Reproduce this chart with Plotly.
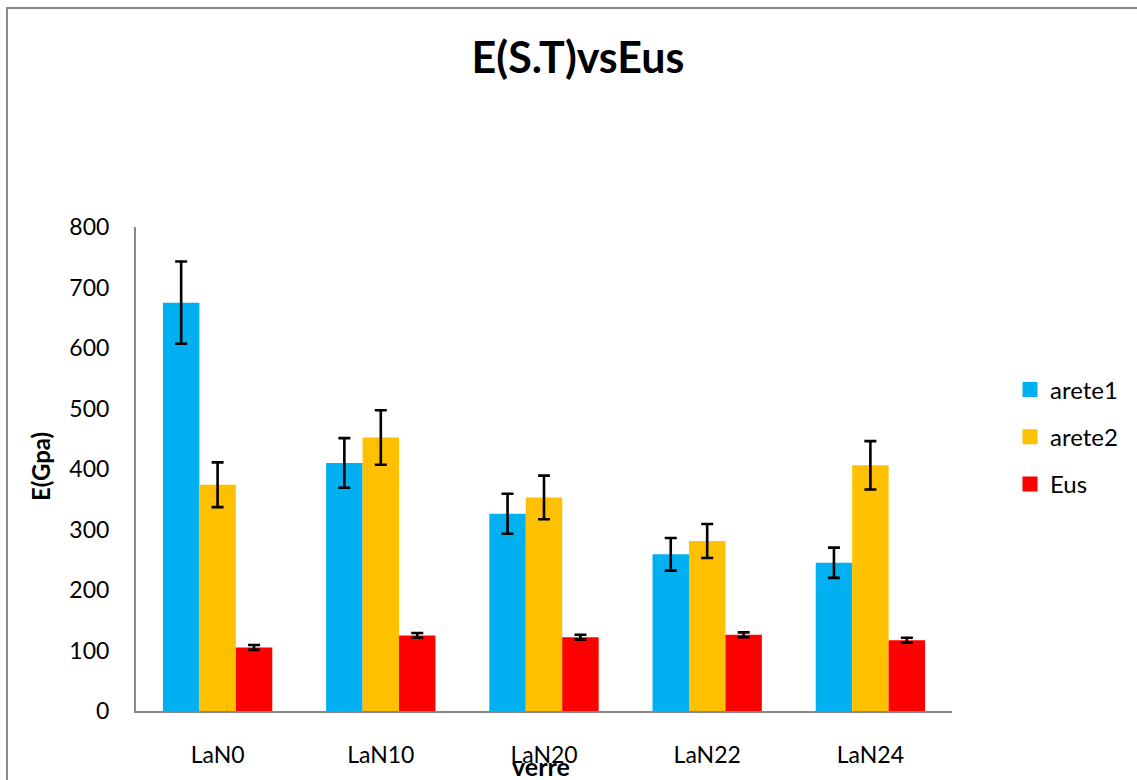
import plotly.graph_objects as go

categories = ["LaN0", "LaN10", "LaN20", "LaN22", "LaN24"]
arete1 = [675, 410, 326, 259, 245]
arete1_err = [68, 41, 33, 27, 25]
arete2 = [374, 452, 353, 281, 406]
arete2_err = [37, 45, 36, 28, 40]
eus = [105, 125, 122, 126, 117]
eus_err = [4, 4, 4, 4, 4]
series_names = ["arete1", "arete2", "Eus"]
colors = ["#00B0F0", "#FFC000", "#FF0000"]

FONT = "Lato, 'Open Sans', sans-serif"

fig = go.Figure()
for i, (name, vals, errs) in enumerate(zip(series_names, [arete1, arete2, eus], [arete1_err, arete2_err, eus_err])):
    fig.add_trace(go.Bar(
        x=categories, y=vals, name=name, legendgroup=name, showlegend=False,
        marker=dict(color=colors[i], line=dict(width=0)),
        error_y=dict(type="data", array=errs, visible=True, color="black", thickness=2.6, width=6),
    ))
# legend entries with larger square swatches
for i, name in enumerate(series_names):
    fig.add_trace(go.Scatter(
        x=[None], y=[None], mode="markers", name=name, legendgroup=name, showlegend=True,
        marker=dict(symbol="square", size=15, color=colors[i], line=dict(width=0)),
    ))

L, R, T, B = 136, 952, 227, 713
W, H = 1137, 780
pw, ph = R - L, B - T

def px(x):
    return (x - L) / pw

def py(y):
    return (B - y) / ph

fig.update_layout(
    width=W, height=H,
    margin=dict(l=L, r=W - R, t=T, b=H - B, pad=0),
    paper_bgcolor="white", plot_bgcolor="white",
    barmode="group", bargap=0.33, bargroupgap=0,
    font=dict(family=FONT, size=23, color="black"),
    title=dict(text="<b>E(S.T)vsEus</b>", x=578 / W, xanchor="center", y=1 - 58 / H, yanchor="middle",
               font=dict(family=FONT, size=43, color="black")),
    showlegend=True,
    legend=dict(x=px(1010), xanchor="left", y=py(368), yanchor="top",
                font=dict(family=FONT, size=24), tracegroupgap=13, bgcolor="rgba(0,0,0,0)"),
    xaxis=dict(showline=True, linecolor="#888888", linewidth=2, showgrid=False, ticks="",
               ticklabelstandoff=22, tickfont=dict(family=FONT, size=23)),
    yaxis=dict(range=[0, 800], dtick=100, showline=True, linecolor="#888888", linewidth=2,
               showgrid=False, ticks="", zeroline=False, ticklabelstandoff=20,
               tickfont=dict(family=FONT, size=23)),
    annotations=[
        dict(text="<b>verre</b>", x=px(541), y=py(768), xref="paper", yref="paper",
             showarrow=False, font=dict(family=FONT, size=25), xanchor="center", yanchor="middle"),
        dict(text="<b>E(Gpa)</b>", x=px(40), y=py(468), xref="paper", yref="paper", textangle=-90,
             showarrow=False, font=dict(family=FONT, size=24), xanchor="center", yanchor="middle"),
    ],
    shapes=[dict(type="rect", xref="paper", yref="paper", x0=px(7), x1=px(1145), y0=py(795), y1=py(7),
                 line=dict(color="#8a8a8a", width=2), fillcolor="rgba(0,0,0,0)", layer="below")],
)

fig.write_html("out.html", config={"displayModeBar": False},
               post_script="document.body.style.margin='0';document.body.style.padding='0';document.body.style.overflow='hidden';")
